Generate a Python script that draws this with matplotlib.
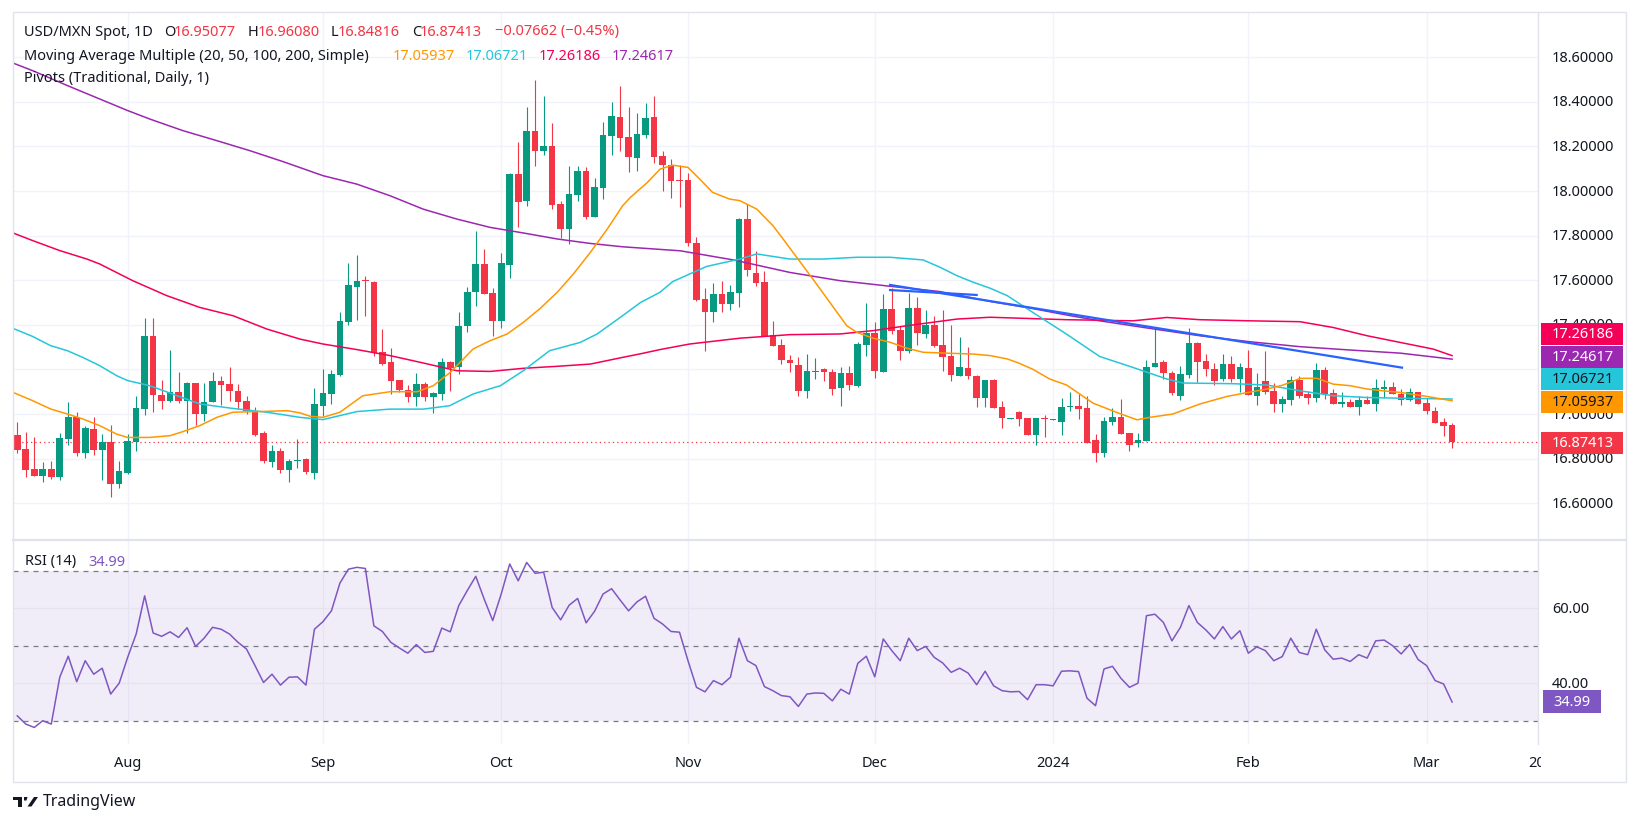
import numpy as np
import matplotlib
matplotlib.use("Agg")
import matplotlib.pyplot as plt
from matplotlib.patches import Rectangle, Polygon
from matplotlib.lines import Line2D
from matplotlib.transforms import Bbox, TransformedBbox, blended_transform_factory

plt.rcParams['font.family'] = ['Noto Sans', 'DejaVu Sans']

# ---- data (bar index 0 = 13 Jul 2023, 169 = 6 Mar 2024) ----
opens = [16.906, 16.843, 16.753, 16.724, 16.753, 16.719, 16.888, 16.988, 16.825, 16.933,
         16.839, 16.873, 16.686, 16.735, 16.873, 17.023, 17.348, 17.087, 17.060, 17.097,
         17.060, 17.139, 17.002, 17.052, 17.147, 17.135, 17.105, 17.058, 17.014, 16.915,
         16.786, 16.834, 16.750, 16.789, 16.798, 16.735, 17.037, 17.090, 17.175, 17.411,
         17.570, 17.597, 17.593, 17.277, 17.232, 17.153, 17.108, 17.078, 17.135, 17.078,
         17.090, 17.232, 17.209, 17.396, 17.546, 17.673, 17.543, 17.419, 17.670, 18.076,
         17.957, 18.271, 18.181, 18.200, 17.942, 17.830, 17.982, 18.088, 17.885, 18.015,
         18.248, 18.330, 18.241, 18.148, 18.252, 18.330, 18.155, 18.119, 18.050, 18.050,
         17.767, 17.516, 17.459, 17.538, 17.493, 17.543, 17.875, 17.633, 17.591, 17.354,
         17.310, 17.242, 17.220, 17.105, 17.190, 17.202, 17.190, 17.117, 17.184, 17.127,
         17.311, 17.363, 17.187, 17.471, 17.377, 17.284, 17.476, 17.359, 17.399, 17.310,
         17.260, 17.172, 17.205, 17.172, 17.070, 17.153, 17.032, 16.977, 17.008, 16.982,
         16.907, 16.982, 16.972, 16.965, 17.032, 17.037, 17.027, 16.883, 16.825, 16.965,
         16.988, 16.913, 16.868, 16.880, 17.213, 17.234, 17.186, 17.082, 17.176, 17.318,
         17.239, 17.204, 17.157, 17.224, 17.157, 17.206, 17.082, 17.146, 17.101, 17.046,
         17.064, 17.151, 17.089, 17.070, 17.197, 17.094, 17.043, 17.053, 17.033, 17.062,
         17.046, 17.114, 17.121, 17.092, 17.064, 17.097, 17.049, 17.012, 16.962, 16.95077]
highs = [16.964, 16.919, 16.895, 16.785, 16.789, 16.915, 17.054, 17.009, 16.945, 16.987,
         16.910, 16.951, 16.789, 16.909, 17.081, 17.431, 17.431, 17.153, 17.287, 17.187,
         17.142, 17.139, 17.139, 17.187, 17.169, 17.209, 17.136, 17.081, 17.031, 16.924,
         16.861, 16.848, 16.798, 16.888, 16.801, 17.117, 17.202, 17.197, 17.456, 17.677,
         17.713, 17.620, 17.597, 17.381, 17.295, 17.153, 17.130, 17.184, 17.145, 17.100,
         17.251, 17.239, 17.456, 17.568, 17.819, 17.740, 17.564, 17.721, 18.081, 18.221,
         18.375, 18.498, 18.428, 18.305, 17.957, 18.114, 18.114, 18.106, 18.058, 18.308,
         18.401, 18.472, 18.375, 18.350, 18.397, 18.428, 18.179, 18.143, 18.116, 18.080,
         17.792, 17.565, 17.588, 17.598, 17.579, 17.878, 17.942, 17.733, 17.643, 17.419,
         17.337, 17.266, 17.254, 17.269, 17.251, 17.208, 17.202, 17.212, 17.214, 17.322,
         17.498, 17.414, 17.538, 17.564, 17.396, 17.541, 17.526, 17.467, 17.441, 17.467,
         17.401, 17.347, 17.299, 17.175, 17.153, 17.158, 17.060, 16.980, 17.015, 16.982,
         16.982, 16.997, 16.978, 17.071, 17.101, 17.089, 17.079, 16.910, 16.985, 17.025,
         17.067, 16.913, 16.914, 17.243, 17.388, 17.242, 17.194, 17.216, 17.384, 17.325,
         17.269, 17.231, 17.269, 17.261, 17.227, 17.287, 17.182, 17.282, 17.137, 17.079,
         17.169, 17.172, 17.104, 17.228, 17.212, 17.112, 17.097, 17.067, 17.079, 17.079,
         17.157, 17.152, 17.142, 17.112, 17.118, 17.097, 17.071, 17.031, 16.982, 16.96080]
lows = [16.827, 16.718, 16.720, 16.697, 16.709, 16.706, 16.863, 16.813, 16.803, 16.816,
        16.706, 16.629, 16.670, 16.730, 16.834, 16.997, 17.009, 17.023, 17.055, 17.051,
        16.913, 16.952, 16.969, 17.052, 17.042, 17.060, 17.023, 17.002, 16.900, 16.782,
        16.762, 16.736, 16.697, 16.759, 16.730, 16.709, 16.993, 17.045, 17.172, 17.399,
        17.423, 17.441, 17.262, 17.220, 17.090, 17.097, 17.052, 17.034, 17.057, 17.003,
        17.064, 17.105, 17.179, 17.366, 17.483, 17.538, 17.351, 17.384, 17.608, 17.837,
        17.934, 18.111, 18.162, 17.919, 17.789, 17.762, 17.957, 17.875, 17.882, 17.964,
        18.162, 18.181, 18.084, 18.088, 18.237, 18.126, 18.001, 17.970, 17.929, 17.754,
        17.505, 17.284, 17.411, 17.456, 17.468, 17.479, 17.620, 17.576, 17.351, 17.307,
        17.223, 17.190, 17.082, 17.070, 17.157, 17.150, 17.085, 17.038, 17.109, 17.120,
        17.262, 17.162, 17.187, 17.359, 17.242, 17.272, 17.311, 17.343, 17.299, 17.195,
        17.147, 17.172, 17.157, 17.033, 17.033, 17.029, 16.936, 16.977, 16.948, 16.907,
        16.863, 16.899, 16.972, 16.907, 17.015, 16.977, 16.870, 16.786, 16.808, 16.950,
        16.910, 16.835, 16.850, 16.880, 17.213, 17.157, 17.086, 17.062, 17.161, 17.142,
        17.172, 17.131, 17.146, 17.142, 17.097, 17.086, 17.040, 17.092, 17.010, 17.010,
        17.040, 17.074, 17.044, 17.055, 17.067, 17.046, 17.033, 17.033, 16.995, 17.046,
        17.015, 17.071, 17.089, 17.040, 17.059, 17.044, 17.000, 16.959, 16.901, 16.84816]
closes = [16.839, 16.750, 16.724, 16.753, 16.719, 16.893, 16.988, 16.825, 16.937, 16.839,
          16.873, 16.686, 16.744, 16.877, 17.027, 17.348, 17.087, 17.060, 17.097, 17.060,
          17.139, 17.002, 17.052, 17.147, 17.132, 17.105, 17.055, 17.014, 16.907, 16.789,
          16.834, 16.750, 16.789, 16.794, 16.741, 17.045, 17.094, 17.179, 17.416, 17.579,
          17.597, 17.595, 17.274, 17.224, 17.150, 17.108, 17.078, 17.135, 17.078, 17.094,
          17.232, 17.206, 17.396, 17.549, 17.673, 17.538, 17.419, 17.677, 18.076, 17.952,
          18.271, 18.181, 18.200, 17.939, 17.830, 17.987, 18.088, 17.885, 18.018, 18.251,
          18.335, 18.238, 18.151, 18.256, 18.327, 18.151, 18.118, 18.046, 18.043, 17.766,
          17.513, 17.459, 17.538, 17.493, 17.546, 17.875, 17.647, 17.588, 17.351, 17.307,
          17.242, 17.227, 17.105, 17.193, 17.195, 17.187, 17.112, 17.184, 17.132, 17.314,
          17.363, 17.195, 17.471, 17.374, 17.284, 17.476, 17.362, 17.399, 17.307, 17.257,
          17.177, 17.212, 17.169, 17.070, 17.153, 17.029, 16.984, 16.980, 16.978, 16.907,
          16.982, 16.978, 16.978, 17.031, 17.034, 17.022, 16.870, 16.825, 16.967, 16.988,
          16.910, 16.861, 16.883, 17.213, 17.231, 17.186, 17.094, 17.179, 17.318, 17.234,
          17.204, 17.149, 17.224, 17.157, 17.209, 17.086, 17.119, 17.100, 17.046, 17.067,
          17.151, 17.082, 17.070, 17.197, 17.089, 17.046, 17.053, 17.033, 17.062, 17.046,
          17.116, 17.116, 17.092, 17.064, 17.097, 17.044, 17.015, 16.959, 16.947, 16.87413]

rsi = [31.3, 29.1, 28.2, 30.0, 29.1, 41.6, 47.2, 40.4, 46.0, 42.4,
       44.0, 37.1, 40.0, 46.9, 53.1, 63.3, 53.4, 52.5, 53.7, 52.2,
       54.8, 49.8, 52.0, 54.9, 54.4, 53.1, 50.9, 49.1, 44.7, 40.2,
       42.4, 39.5, 41.6, 41.7, 39.5, 54.4, 56.4, 59.3, 66.7, 70.4,
       70.9, 70.6, 55.3, 53.8, 50.9, 49.4, 48.0, 50.3, 48.2, 48.5,
       54.7, 53.7, 60.7, 64.7, 68.5, 62.4, 56.7, 63.8, 71.8, 67.3,
       72.2, 69.3, 69.6, 60.2, 56.9, 60.8, 62.6, 56.1, 59.2, 63.8,
       65.2, 62.2, 59.3, 61.7, 63.2, 57.3, 55.8, 53.8, 53.6, 46.0,
       38.9, 37.7, 40.7, 39.6, 41.6, 52.0, 46.0, 44.7, 39.1, 38.0,
       36.7, 36.4, 33.8, 37.1, 37.4, 37.3, 35.3, 38.4, 37.1, 45.3,
       47.2, 41.7, 51.8, 48.7, 46.0, 52.0, 48.7, 49.8, 46.9, 45.4,
       42.9, 44.0, 42.7, 39.6, 43.2, 39.3, 38.0, 37.7, 37.8, 35.6,
       39.6, 39.6, 39.3, 43.2, 43.3, 43.1, 36.0, 34.0, 43.8, 44.5,
       41.3, 38.9, 40.0, 58.0, 58.4, 56.2, 51.3, 54.9, 60.7, 56.2,
       54.2, 51.8, 55.1, 51.8, 54.0, 48.0, 49.7, 48.7, 46.0, 47.1,
       52.0, 48.2, 47.6, 54.4, 48.9, 46.4, 46.7, 45.8, 47.6, 46.7,
       51.3, 51.5, 50.0, 47.8, 50.3, 46.3, 44.7, 40.7, 39.8, 34.99]

ma20_x = [-0.5, 1.8, 3.9, 5.9, 7.7, 9.7, 11.7, 13.0, 15.6, 18.0, 19.5, 21.5, 23.5, 25.4, 29.4,
          31.8, 33.3, 34.5, 36.0, 38.0, 40.7, 43.9, 47.1, 49.0, 51.0, 53.7, 55.7, 57.7, 59.6,
          61.6, 63.6, 65.5, 67.5, 69.5, 71.3, 72.2, 74.2, 75.7, 77.2, 79.0, 80.4, 81.9, 83.9,
          85.1, 87.1, 89.0, 90.2, 91.8, 93.7, 95.7, 97.7, 98.9, 100.8, 102.8, 104.8, 106.7,
          108.7, 112.6, 114.6, 116.6, 117.8, 119.6, 121.6, 123.6, 126.7, 129.5, 131.9, 133.4,
          136.1, 139.3, 142.5, 145.0, 147.2, 149.1, 151.1, 153.1, 155.0, 157.0, 159.0, 160.9,
          162.9, 166.0, 169.0]
ma20_y = [17.097, 17.060, 17.023, 17.000, 16.978, 16.948, 16.910, 16.895, 16.895, 16.903,
          16.921, 16.948, 16.985, 17.008, 17.012, 17.015, 17.005, 16.990, 16.985, 17.008,
          17.082, 17.100, 17.100, 17.127, 17.187, 17.292, 17.329, 17.359, 17.411, 17.474,
          17.546, 17.628, 17.725, 17.830, 17.934, 17.971, 18.038, 18.098, 18.116, 18.106,
          18.053, 17.994, 17.964, 17.957, 17.919, 17.845, 17.785, 17.703, 17.606, 17.501,
          17.396, 17.366, 17.340, 17.322, 17.295, 17.277, 17.274, 17.269, 17.262, 17.247,
          17.231, 17.201, 17.157, 17.130, 17.049, 17.007, 16.974, 16.985, 17.000, 17.045,
          17.079, 17.097, 17.112, 17.130, 17.160, 17.160, 17.134, 17.127, 17.112, 17.104,
          17.097, 17.079, 17.05937]

ma50_x = [-0.5, 1.8, 3.9, 5.9, 7.7, 9.7, 11.7, 13.0, 15.6, 21.5, 25.4, 29.4, 33.3, 36.0,
          40.0, 43.9, 47.8, 50.9, 53.7, 56.9, 59.6, 62.7, 66.3, 68.3, 71.3, 73.4, 75.7, 77.2,
          81.2, 85.1, 87.1, 91.0, 94.9, 98.9, 102.8, 106.7, 108.7, 110.7, 112.6, 114.6, 116.6,
          119.6, 123.6, 127.5, 131.4, 135.4, 137.3, 143.2, 147.2, 151.1, 155.0, 159.0, 162.9,
          169.0]
ma50_y = [17.384, 17.348, 17.307, 17.284, 17.254, 17.217, 17.172, 17.150, 17.127, 17.045,
          17.025, 17.008, 16.985, 16.975, 17.011, 17.022, 17.022, 17.037, 17.090, 17.127,
          17.194, 17.284, 17.321, 17.359, 17.441, 17.500, 17.546, 17.594, 17.662, 17.695,
          17.718, 17.695, 17.695, 17.703, 17.703, 17.691, 17.658, 17.620, 17.591, 17.564,
          17.531, 17.456, 17.358, 17.258, 17.209, 17.157, 17.139, 17.136, 17.130, 17.104,
          17.082, 17.074, 17.071, 17.06721]

ma100_x = [-0.5, 1.8, 5.0, 8.2, 9.7, 13.6, 17.6, 21.5, 25.4, 29.4, 33.3, 36.0, 40.0, 43.9,
           47.8, 51.8, 55.7, 59.6, 63.6, 67.5, 71.3, 73.4, 75.7, 79.2, 85.1, 91.0, 96.9, 100.8,
           104.8, 110.7, 114.6, 123.6, 131.4, 135.4, 139.3, 145.2, 151.1, 155.0, 159.0, 162.9,
           166.8, 169.0]
ma100_y = [17.812, 17.778, 17.733, 17.695, 17.673, 17.598, 17.531, 17.478, 17.441, 17.381,
           17.336, 17.314, 17.289, 17.262, 17.229, 17.194, 17.191, 17.205, 17.214, 17.224,
           17.254, 17.270, 17.289, 17.314, 17.340, 17.356, 17.359, 17.374, 17.396, 17.426,
           17.434, 17.423, 17.418, 17.433, 17.423, 17.418, 17.414, 17.388, 17.351, 17.321,
           17.291, 17.26186]

ma200_x = [-0.5, 1.8, 5.9, 9.7, 13.0, 15.6, 19.5, 23.5, 27.4, 31.3, 36.0, 40.0, 43.9, 47.8,
           51.8, 55.7, 59.6, 63.6, 67.5, 71.3, 78.1, 84.5, 91.0, 96.9, 102.8, 108.7, 114.6,
           119.6, 123.6, 127.5, 133.4, 139.3, 145.2, 151.1, 157.0, 162.9, 169.0]
ma200_y = [18.574, 18.540, 18.473, 18.413, 18.361, 18.323, 18.271, 18.226, 18.181, 18.132,
           18.069, 18.031, 17.979, 17.919, 17.874, 17.837, 17.812, 17.785, 17.765, 17.750,
           17.732, 17.690, 17.635, 17.598, 17.573, 17.549, 17.505, 17.473, 17.444, 17.418,
           17.384, 17.351, 17.324, 17.302, 17.287, 17.273, 17.24617]

# hand-drawn trend lines (bar index, price)
trend_long_x = [102.8, 163.1]
trend_long_y = [17.579, 17.208]
trend_short_x = [102.8, 113.0]
trend_short_y = [17.556, 17.534]

month_pos = [13, 36, 57, 79, 101, 122, 145, 166]
month_labels = ['Aug', 'Sep', 'Oct', 'Nov', 'Dec', '2024', 'Feb', 'Mar']
price_ticks = [16.6, 16.8, 17.0, 17.2, 17.4, 17.6, 17.8, 18.0, 18.2, 18.4, 18.6]
hidden_ticks = [17.2]   # covered by the value labels on the price scale
rsi_ticks = [60, 40]

# ---- colours ----
UP = '#089981'
DOWN = '#F23645'
C20, C50, C100, C200 = '#FF9800', '#26C6DA', '#F50057', '#9C27B0'
BLUE = '#2962FF'
RSI_C = '#7E57C2'
TXT = '#131722'
GRID = '#F0F3FA'
BORDER = '#E0E3EB'

W, H = 1640, 829
fig = plt.figure(figsize=(W / 100, H / 100), dpi=100)
fig.patch.set_facecolor('white')


def fx(px):
    return px / W


def fy(py):
    return 1 - py / H


XL, XR = -0.506, 179.12
ax = fig.add_axes([fx(13), fy(541), fx(1538) - fx(13), fy(13) - fy(541)])
axr = fig.add_axes([fx(13), fy(745), fx(1538) - fx(13), fy(541) - fy(745)])

for a in (ax, axr):
    a.set_xlim(XL, XR)
    for s in a.spines.values():
        s.set_visible(False)
    a.set_xticks([])
    a.set_yticks([])
    for m in month_pos:
        a.axvline(m, color=GRID, lw=1, zorder=0)

ax.set_ylim(16.435, 18.803)
axr.set_ylim(23.79, 78.19)

# price grid + labels
ytr = ax.get_yaxis_transform()
top_clip = TransformedBbox(Bbox([[0, fy(324)], [1, 1]]), fig.transFigure)
for t in price_ticks:
    ax.axhline(t, color=GRID, lw=1, zorder=0)
    if t in hidden_ticks:
        continue
    lab = ax.text(1.0092, t, f'{t:.5f}', transform=ytr, ha='left', va='center',
                  fontsize=10.5, color=TXT, clip_on=False)
    if abs(t - 17.4) < 1e-9:
        # only the top of this label peeks out above the MA value labels
        lab.set_clip_on(True)
        lab.set_clip_box(top_clip)

# candles
idx = np.arange(len(closes))
o = np.array(opens)
c = np.array(closes)
hi = np.array(highs)
lo = np.array(lows)
cols = np.where(c >= o, UP, DOWN)
ax.vlines(idx, lo, hi, colors=cols, lw=0.8, zorder=3)
ax.bar(idx, np.maximum(np.abs(c - o), 0.005), bottom=np.minimum(o, c), width=0.78,
       color=cols, linewidth=0, zorder=3)

# moving averages
ax.plot(ma200_x, ma200_y, color=C200, lw=1.1, zorder=4)
ax.plot(ma100_x, ma100_y, color=C100, lw=1.1, zorder=4)
ax.plot(ma50_x, ma50_y, color=C50, lw=1.1, zorder=4)
ax.plot(ma20_x, ma20_y, color=C20, lw=1.1, zorder=4)
ax.plot(trend_long_x, trend_long_y, color=BLUE, lw=1.6, zorder=5)
ax.plot(trend_short_x, trend_short_y, color=BLUE, lw=1.6, zorder=5)

ax.axhline(closes[-1], color=DOWN, lw=0.9, ls=(0, (1, 2.5)), zorder=2)

# RSI pane
axr.axhspan(30, 70, color=RSI_C, alpha=0.1, lw=0, zorder=0)
for t in rsi_ticks:
    axr.axhline(t, color='#E6E3EF', lw=1, zorder=1)
for t in (70, 50, 30):
    axr.axhline(t, color='#787B86', lw=0.9, ls=(0, (4, 4)), zorder=2)
axr.plot(idx, rsi, color=RSI_C, lw=1.1, zorder=3)
rtr = axr.get_yaxis_transform()
for t in rsi_ticks:
    axr.text(1.0092, t, f'{t:.2f}', transform=rtr, ha='left', va='center',
             fontsize=10.5, color=TXT, clip_on=False)

# time axis labels
xtr = blended_transform_factory(axr.transData, axr.transAxes)
for m, lab in zip(month_pos, month_labels):
    axr.text(m, -0.093, lab, transform=xtr, ha='center', va='center', fontsize=10.5,
             color=TXT, fontweight='bold' if lab == '2024' else 'normal', clip_on=False)
t20 = axr.text(179, -0.093, '20', transform=xtr, ha='center', va='center',
               fontsize=10.5, color=TXT)
t20.set_clip_on(True)
t20.set_clip_box(TransformedBbox(Bbox([[0, 0], [fx(1541), 1]]), fig.transFigure))

# frame lines
fig.add_artist(Rectangle((fx(13), fy(783)), fx(1626) - fx(13), fy(13) - fy(783),
                         fill=False, ec=BORDER, lw=1, transform=fig.transFigure))
fig.add_artist(Line2D([fx(1538), fx(1538)], [fy(13), fy(745)], color=BORDER, lw=1,
                      transform=fig.transFigure))
fig.add_artist(Line2D([fx(13), fx(1626)], [fy(541), fy(541)], color=BORDER, lw=1.6,
                      transform=fig.transFigure))

# price scale value labels
boxes = [(ma100_y[-1], C100, 'white', 335), (ma200_y[-1], C200, 'white', 357.5),
         (ma50_y[-1], C50, TXT, 380), (ma20_y[-1], C20, TXT, 402.5),
         (closes[-1], DOWN, 'white', 443.5)]
for val, bc, tc, yc in boxes:
    fig.add_artist(Rectangle((fx(1541), fy(yc + 11)), fx(1623) - fx(1541), fy(yc - 11) - fy(yc + 11),
                             fc=bc, ec='none', transform=fig.transFigure))
    fig.text(fx(1552), fy(yc), f'{val:.5f}', ha='left', va='center', fontsize=10.5, color=tc)

ry = 721.7 - (rsi[-1] - 30) * 3.75
fig.add_artist(Rectangle((fx(1543), fy(ry + 11.5)), fx(1601) - fx(1543), 23 / H,
                         fc=RSI_C, ec='none', transform=fig.transFigure))
fig.text(fx(1553), fy(ry), f'{rsi[-1]:.2f}', ha='left', va='center', fontsize=10.5, color='white')


# legend
def put(x, y, s, col=TXT):
    fig.text(fx(x), fy(y), s, ha='left', va='center', fontsize=10.5, color=col)


put(24, 32, 'USD/MXN Spot, 1D')
put(164, 32, 'O')
put(174, 32, f'{opens[-1]:.5f}', DOWN)
put(248, 32, 'H')
put(258, 32, f'{highs[-1]:.5f}', DOWN)
put(331, 32, 'L')
put(338, 32, f'{lows[-1]:.5f}', DOWN)
put(412, 32, 'C')
put(420, 32, f'{closes[-1]:.5f}', DOWN)
put(495, 32, '\u22120.07662 (\u22120.45%)', DOWN)
put(24, 56, 'Moving Average Multiple (20, 50, 100, 200, Simple)')
put(393, 56, f'{ma20_y[-1]:.5f}', C20)
put(466, 56, f'{ma50_y[-1]:.5f}', C50)
put(539, 56, f'{ma100_y[-1]:.5f}', C100)
put(612, 56, f'{ma200_y[-1]:.5f}', C200)
put(24, 79, 'Pivots (Traditional, Daily, 1)')
put(25, 562, 'RSI (14)')
put(88, 562, f'{rsi[-1]:.2f}', RSI_C)

# TradingView logo
tf = fig.transFigure
fig.add_artist(Rectangle((fx(12.7), fy(801)), fx(22) - fx(12.7), 3 / H, fc=TXT, ec='none', transform=tf))
fig.add_artist(Rectangle((fx(18), fy(807.5)), fx(22) - fx(18), 9.5 / H, fc=TXT, ec='none', transform=tf))
fig.add_artist(Polygon([(fx(24), fy(798)), (fx(27.5), fy(798)), (fx(26.5), fy(801.5)), (fx(24), fy(801.5))],
                       closed=True, fc=TXT, ec='none', transform=tf))
fig.add_artist(Polygon([(fx(27.5), fy(807.5)), (fx(31.5), fy(807.5)), (fx(38), fy(798)), (fx(34), fy(798))],
                       closed=True, fc=TXT, ec='none', transform=tf))
fig.text(fx(43), fy(802.5), 'TradingView', ha='left', va='center', fontsize=11.5, color=TXT)

fig.savefig('out.png', dpi=100, facecolor='white')
